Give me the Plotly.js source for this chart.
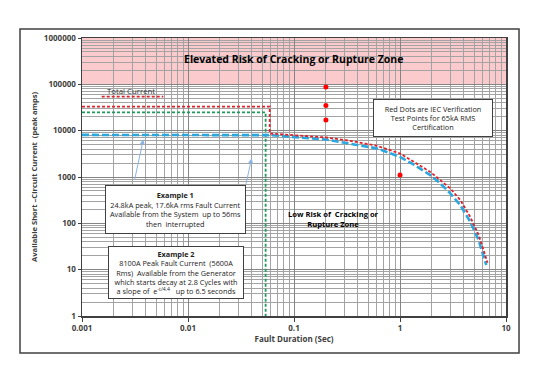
<!DOCTYPE html>
<html>
<head>
<meta charset="utf-8">
<script src="https://cdn.plot.ly/plotly-3.0.1.min.js"></script>
<style>
html,body{margin:0;padding:0;background:#fff;}
#chart{width:538px;height:381px;}
</style>
</head>
<body>
<div id="chart"></div>
<script>
// ---- data ----
var xTickVals = [0.001, 0.01, 0.1, 1, 10];
var xTickText = ["0.001", "0.01", "0.1", "1", "10"];
var yTickVals = [1, 10, 100, 1000, 10000, 100000, 1000000];
var yTickText = ["1", "10", "100", "1000", "10000", "100000", "1000000"];

// Total current (red dashed)
var totalX = [0.001, 0.059, 0.059, 0.2, 0.34, 0.61, 1.0, 1.34, 1.93, 2.4, 2.98, 3.71, 4.6, 5.52, 6.15, 6.7];
var totalY = [32900, 32900, 8690, 7130, 6030, 4700, 3220, 2120, 1290, 855, 567, 317, 138, 56, 26.5, 14.1];

// Example 1: system current (green dashed)
var systemX = [0.001, 0.054, 0.054];
var systemY = [24800, 24800, 1];

// Example 2: generator current (blue dashed)
var genX = [0.001, 0.047, 0.06, 0.2, 0.34, 0.61, 1.0, 1.34, 1.93, 2.4, 2.98, 3.71, 4.6, 5.52, 6.15, 6.52];
var genY = [8100, 8100, 8000, 6450, 5290, 4130, 2720, 1870, 1100, 727, 442, 247, 108, 43.5, 19, 12.6];

// IEC verification test points (red dots)
var iecX = [0.2, 0.2, 0.2, 1.0];
var iecY = [88000, 35000, 17000, 1100];

// elevated-risk zone bounds (y)
var zoneLow = 100000;
var zoneHigh = 1000000;

var FONT = "Open Sans, Noto Sans, sans-serif";

var traces = [
  {x: systemX, y: systemY, type: "scatter", mode: "lines",
   line: {color: "#1f9a5e", width: 1.8, dash: "3px,2px"}, hoverinfo: "skip"},
  {x: genX, y: genY, type: "scatter", mode: "lines",
   line: {color: "#2aa7df", width: 2.6, dash: "7px,3px"}, hoverinfo: "skip"},
  {x: totalX, y: totalY, type: "scatter", mode: "lines",
   line: {color: "#e0222a", width: 1.8, dash: "3px,2px"}, hoverinfo: "skip"},
  {x: iecX, y: iecY, type: "scatter", mode: "markers",
   marker: {color: "#ff0000", size: 5}, hoverinfo: "skip"}
];

var boxFont = {family: FONT, size: 7.3, color: "#222"};

function ann(o) {
  o.xref = o.xref || "paper"; o.yref = o.yref || "paper";
  o.xanchor = o.xanchor || "center"; o.yanchor = o.yanchor || "middle";
  if (o.showarrow === undefined) o.showarrow = false;
  return o;
}

var layout = {
  width: 538, height: 381,
  margin: {l: 82, r: 32, t: 38, b: 65, pad: 0},
  paper_bgcolor: "#ffffff",
  plot_bgcolor: "#ffffff",
  showlegend: false,
  font: {family: FONT, size: 8, color: "#404040"},
  xaxis: {
    type: "log", range: [-3, 1],
    tickmode: "array", tickvals: xTickVals, ticktext: xTickText,
    showgrid: true, gridcolor: "#858585", gridwidth: 1,
    minor: {tickmode: "linear", dtick: "D1", showgrid: true, gridcolor: "#a3a3a3", gridwidth: 1, ticks: ""},
    showline: true, linecolor: "#404040", linewidth: 1.5, mirror: true,
    ticks: "outside", ticklen: 4, tickcolor: "#404040",
    tickfont: {family: FONT, size: 8, color: "#404040", weight: "bold"},
    zeroline: false,
    title: {text: "Fault Duration (Sec)", standoff: 4,
            font: {family: FONT, size: 8, color: "#404040", weight: "bold"}}
  },
  yaxis: {
    type: "log", range: [0, 6],
    tickmode: "array", tickvals: yTickVals, ticktext: yTickText,
    showgrid: true, gridcolor: "#858585", gridwidth: 1,
    minor: {tickmode: "linear", dtick: "D1", showgrid: true, gridcolor: "#a3a3a3", gridwidth: 1, ticks: ""},
    showline: true, linecolor: "#404040", linewidth: 1.5, mirror: true,
    ticks: "outside", ticklen: 3, tickcolor: "#404040",
    tickfont: {family: FONT, size: 8, color: "#404040", weight: "bold"},
    zeroline: false
  },
  shapes: [
    {type: "rect", xref: "paper", yref: "y", x0: 0, x1: 1, y0: zoneLow, y1: zoneHigh,
     fillcolor: "#fbcacc", line: {width: 0}, layer: "below"},
    {type: "rect", xref: "paper", yref: "paper", x0: -0.1462, x1: 1.0307, y0: -0.1331, y1: 1.0324,
     fillcolor: "rgba(0,0,0,0)", line: {color: "#404040", width: 1.5}, layer: "above"},
    {type: "line", xref: "paper", yref: "paper", x0: 0.0465, x1: 0.1917, y0: 0.7888, y1: 0.7888,
     line: {color: "#e0222a", width: 1.8, dash: "3px,2px"}}
  ],
  annotations: [
    ann({x: -0.1132, y: 0.5, textangle: -90,
     text: "<b>Available Short \u2013Circuit Current  (peak amps)</b>",
     font: {family: FONT, size: 7.6, color: "#404040"}}),
    ann({x: 0.4988, y: 0.9234,
     text: "<b>Elevated Risk of Cracking or Rupture Zone</b>",
     font: {family: FONT, size: 10.5, color: "#000"}}),
    ann({x: 0.1156, y: 0.8104,
     text: "Total Current", font: {family: FONT, size: 7.8, color: "#333"}}),
    ann({x: 0.592, y: 0.35,
     text: "<b>Low Risk of  Cracking or<br>Rupture Zone</b>",
     font: {family: FONT, size: 7.6, color: "#000"}}),
    ann({x: 0.2205, y: 0.383,
     width: 137, height: 45, bgcolor: "#ffffff", bordercolor: "#404040", borderwidth: 1, borderpad: 1,
     text: "<b>Example 1</b><br>24.8kA peak, 17.6kA rms Fault Current<br>Available from the System  up to 56ms<br>then  interrupted",
     font: boxFont}),
    ann({x: 0.2224, y: 0.1547,
     width: 132, height: 49, bgcolor: "#ffffff", bordercolor: "#404040", borderwidth: 1, borderpad: 1,
     text: "<b>Example 2</b><br>8100A Peak Fault Current  (5600A<br>Rms)  Available from the Generator<br>which starts decay at 2.8 Cycles with<br>a slope of  e<sup>-t/4.4</sup>   up to 6.5 seconds",
     font: boxFont}),
    ann({x: 0.8278, y: 0.7115,
     width: 116, height: 34, bgcolor: "#ffffff", bordercolor: "#404040", borderwidth: 1, borderpad: 1,
     text: "Red Dots are IEC Verification<br>Test Points for 65kA RMS<br>Certification",
     font: boxFont}),
    ann({x: 0.1446, y: 0.6356, showarrow: true, text: "",
     ax: -9, ay: 42, arrowhead: 2, arrowsize: 1, arrowwidth: 1, arrowcolor: "#8db3e2"}),
    ann({x: 0.4002, y: 0.5673, showarrow: true, text: "",
     ax: -6, ay: 27, arrowhead: 2, arrowsize: 1, arrowwidth: 1, arrowcolor: "#8db3e2"})
  ]
};

Plotly.newPlot("chart", traces, layout, {displayModeBar: false, staticPlot: true});
</script>
</body>
</html>
